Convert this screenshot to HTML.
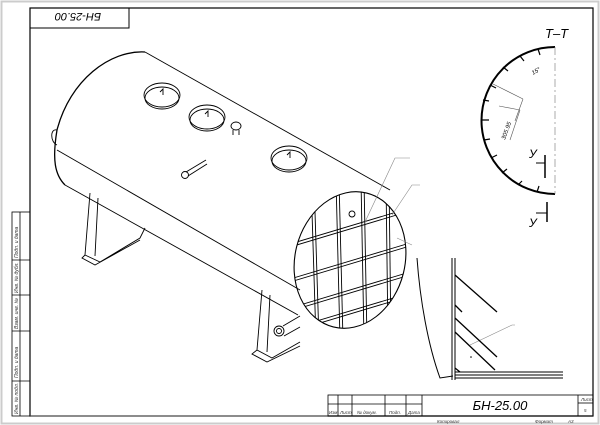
<!DOCTYPE html>
<html><head><meta charset="utf-8"><style>
body{margin:0;background:#fff}
svg{display:block}
text{font-family:"Liberation Sans","DejaVu Sans",sans-serif;font-style:italic}
</style></head><body>
<svg width="600" height="425" viewBox="0 0 600 425" xmlns="http://www.w3.org/2000/svg">
<defs><clipPath id="ep"><ellipse cx="350" cy="260" rx="55" ry="69" transform="rotate(14 350 260)"/></clipPath></defs>
<rect x="1.5" y="1.5" width="597" height="422" fill="none" stroke="#ccc" stroke-width="2"/>
<rect x="30" y="8" width="563" height="408" fill="none" stroke="#000" stroke-width="1.2"/>
<line x1="30" y1="416" x2="593" y2="416" stroke="#777" stroke-width="1.5"/>
<rect x="30" y="8" width="99" height="20" fill="none" stroke="#000"/>
<text x="78" y="23" font-size="11" text-anchor="middle" transform="rotate(180 78 18)">БН-25.00</text>
<g stroke="#000" fill="none" stroke-width="0.8">
<rect x="12" y="212" width="18" height="204"/>
<line x1="20" y1="212" x2="20" y2="416"/>
<line x1="12" y1="260" x2="30" y2="260"/><line x1="12" y1="295" x2="30" y2="295"/>
<line x1="12" y1="331" x2="30" y2="331"/><line x1="12" y1="381" x2="30" y2="381"/>
</g>
<g font-size="5" fill="#333">
<text transform="translate(18,258) rotate(-90)">Подп. и дата</text>
<text transform="translate(18,293) rotate(-90)">Инв. № дубл.</text>
<text transform="translate(18,329) rotate(-90)">Взам. инв. №</text>
<text transform="translate(18,378) rotate(-90)">Подп. и дата</text>
<text transform="translate(18,414) rotate(-90)">Инв. № подл.</text>
</g>
<g stroke="#000" fill="none" stroke-width="0.9">
<path d="M145,52 L390,190"/>
<path d="M57,150 L300,290"/>
<path d="M65,185 L298,315"/>
<path d="M145,52 C110,50 70,80 57,130 C52,160 55,175 65,185" stroke-width="1.3"/>
<path d="M57,130 C50,128 50,142 57,145"/>
<path d="M90,193 L85,255 L100,262 L140,238 L145,228 M98,198 L95,256 M85,255 L82,258 L95,265 L140,240"/>
<path d="M262,290 L257,350 L272,358 L300,342 M270,295 L267,352 M257,350 L252,354 L267,362 L300,346"/>
<circle cx="279" cy="331" r="5"/><circle cx="279" cy="331" r="2.5"/>
<path d="M283,326 L300,316 M284,336 L300,327"/>
<ellipse cx="162" cy="95" rx="18" ry="12"/><ellipse cx="162" cy="98" rx="17" ry="11"/>
<ellipse cx="207" cy="117" rx="18" ry="12"/><ellipse cx="207" cy="120" rx="17" ry="11"/>
<ellipse cx="289" cy="158" rx="18" ry="12"/><ellipse cx="289" cy="161" rx="17" ry="11"/>
<path d="M160,92 l3,-3 l0,6 M205,114 l3,-3 l0,6 M287,155 l3,-3 l0,6"/>
<ellipse cx="236" cy="126" rx="5" ry="4"/><path d="M233,130 v5 M239,130 v5"/>
<path d="M186,172 L206,160 M188,176 L207,164"/>
<circle cx="185" cy="175" r="3.5"/>
<ellipse cx="350" cy="260" rx="55" ry="69" transform="rotate(14 350 260)" stroke-width="1.1"/>
<g clip-path="url(#ep)">
<path d="M311,180 L316,340 M314,180 L319,340 M336,180 L340,340 M339,180 L343,340 M361,180 L364,340 M364,180 L367,340 M386,180 L388,340 M389,180 L391,340"/>
<path d="M290,244 L410,208 M290,247 L410,211 M290,279 L410,243 M290,282 L410,246 M290,308 L410,272 M290,311 L410,275 M290,329 L410,293 M290,332 L410,296"/>
</g>
<circle cx="352" cy="214" r="3"/>
</g>
<g stroke="#888" stroke-width="0.6" fill="none">
<path d="M365,222 L395,158 L410,158 M392,215 L412,185 L420,185 M397,238 L412,245"/>
<path d="M470,345 L512,325 L515,325"/>
</g>
<text x="545" y="38" font-size="13" font-style="normal">Т–Т</text>
<g stroke="#000" fill="none">
<path d="M555,47 A73,73 0 0 0 555,194" stroke-width="2"/>
<line x1="555" y1="47" x2="555" y2="194" stroke="#888" stroke-dasharray="8,3,2,3" stroke-width="0.7"/>
<path d="M538,49 l2,6 M520,56 l4,5 M503,67 l5,4 M490,85 l6,3 M483,100 l6,1 M482,120 l7,0 M484,140 l6,-1 M491,158 l6,-3 M502,173 l5,-4 M518,185 l4,-4 M537,192 l2,-6" stroke-width="1.2"/>
<path d="M493,84 L523,99 M499,106 L520,110 M520,110 L510,140 M523,99 L515,121" stroke="#555" stroke-width="0.6"/>
<line x1="545" y1="155" x2="545" y2="178" stroke-width="1.5"/><line x1="536" y1="163" x2="545" y2="163"/>
<line x1="547" y1="202" x2="547" y2="222" stroke-width="1.5"/><line x1="536" y1="213" x2="547" y2="213"/>
</g>
<text x="529" y="158" font-size="12" font-style="normal">У</text>
<text x="529" y="227" font-size="12" font-style="normal">У</text>
<text x="533" y="75" font-size="6" transform="rotate(-30 533 75)">15°</text>
<text x="505" y="140" font-size="6" transform="rotate(-70 505 140)">305.95</text>
<g stroke="#000" fill="none">
<path d="M417,258 C420,300 428,345 440,378 L453,376"/>
<line x1="452" y1="258" x2="452" y2="380" stroke-width="1"/><line x1="455" y1="258" x2="455" y2="380" stroke-width="1"/>
<line x1="455" y1="372" x2="563" y2="372"/><line x1="455" y1="375" x2="563" y2="375"/><line x1="455" y1="378" x2="563" y2="378"/>
<path d="M455,275 L497,312 M455,305 L462,312 M455,318 L497,357 M455,332 L495,370 M455,368 L460,372" stroke-width="1.3"/>
</g>
<circle cx="471" cy="357" r="0.8"/>
<g stroke="#000" fill="none" stroke-width="0.8">
<rect x="328" y="395" width="265" height="21"/>
<line x1="328" y1="404" x2="422" y2="404"/>
<line x1="338" y1="395" x2="338" y2="416"/><line x1="352" y1="395" x2="352" y2="416"/>
<line x1="385" y1="395" x2="385" y2="416"/><line x1="406" y1="395" x2="406" y2="416"/>
<line x1="422" y1="395" x2="422" y2="416"/><line x1="578" y1="395" x2="578" y2="416"/>
<line x1="578" y1="403" x2="593" y2="403"/>
</g>
<text x="500" y="410" font-size="13" text-anchor="middle">БН-25.00</text>
<g font-size="4.5" fill="#333">
<text x="329" y="414">Изм</text><text x="340" y="414">Лист</text><text x="357" y="414">№ докум.</text>
<text x="389" y="414">Подп.</text><text x="408" y="414">Дата</text>
<text x="581" y="401">Лист</text><text x="584" y="412">5</text>
<text x="437" y="423">Копировал</text><text x="535" y="423">Формат</text><text x="568" y="423">А3</text>
</g>
</svg>
</body></html>
